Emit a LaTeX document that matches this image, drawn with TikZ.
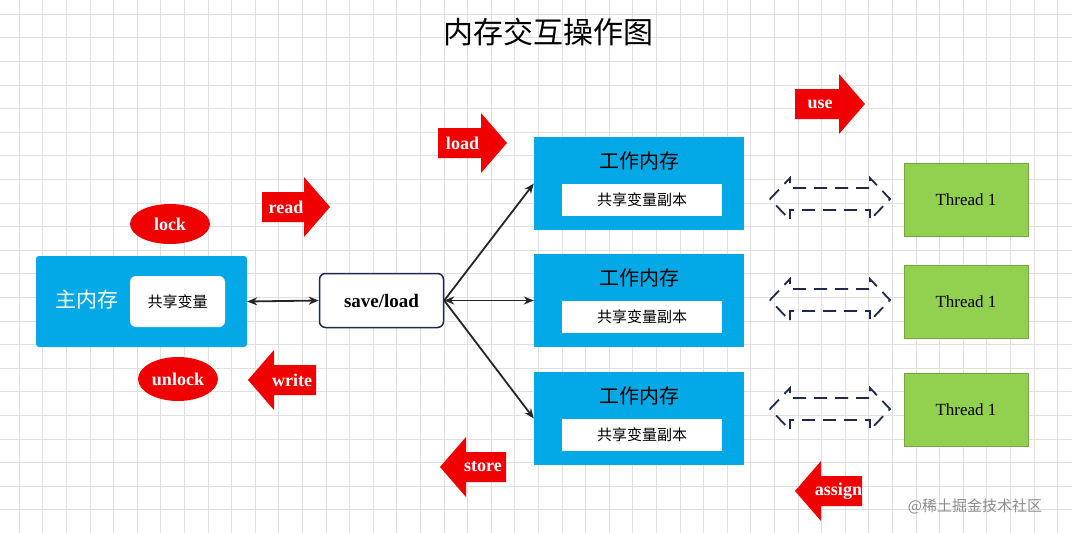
\documentclass[tikz,border=0pt]{standalone}
\usepackage{fontspec}
\newfontfamily\cjk{Noto Sans CJK SC}
\setmainfont{Liberation Serif}
\usetikzlibrary{arrows.meta,shapes.geometric}
\definecolor{cy}{HTML}{02A9E6}
\definecolor{gr}{HTML}{92D050}
\definecolor{rd}{HTML}{F00000}
\definecolor{nv}{HTML}{1F2A4A}
\newcommand\blkR[4]{\fill[rd] (#1,#3-15)--(#2-26,#3-15)--(#2-26,#3-30)--(#2,#3)--(#2-26,#3+30)--(#2-26,#3+15)--(#1,#3+15)--cycle;
 \node[lbl] at ({(#1+#2-20)/2},#3) {#4};}
\newcommand\blkL[4]{\fill[rd] (#2,#3-15)--(#1+26,#3-15)--(#1+26,#3-30)--(#1,#3)--(#1+26,#3+30)--(#1+26,#3+15)--(#2,#3+15)--cycle;
 \node[lbl] at ({(#1+#2+20)/2},#3) {#4};}
\newcommand\dda[1]{\draw[nv,line width=1.8pt,dash pattern=on 13pt off 8pt] (770,#1)--(790,#1-21)--(790,#1-11)--(870,#1-11)--(870,#1-21)--(890,#1)--(870,#1+21)--(870,#1+11)--(790,#1+11)--(790,#1+21)--cycle;}
\begin{document}
\begin{tikzpicture}[x=1pt,y=-1pt,
 lbl/.style={text=white,font=\fontsize{18}{20}\selectfont\bfseries},
 wm/.style={fill=cy,minimum width=210pt,minimum height=93pt,inner sep=0pt},
 inb/.style={fill=white,minimum width=160pt,minimum height=32pt,font=\cjk\fontsize{15}{17}\selectfont},
 th/.style={fill=gr,draw=gr!80!black,line width=0.3pt,minimum width=124pt,minimum height=73pt,font=\fontsize{17}{19}\selectfont},
 con/.style={-{Stealth[length=10pt,width=8pt]},line width=1.8pt,black!85}]
\useasboundingbox (0,0) rectangle (1072,533);
\fill[white] (0,0) rectangle (1072,533);
\foreach \i in {0,...,44} \draw[black!12,line width=0.6pt] (19+23.6*\i,0)--(19+23.6*\i,533);
\foreach \i in {0,...,22} \draw[black!12,line width=0.6pt] (0,14+23.6*\i)--(1072,14+23.6*\i);
\node[font=\cjk\fontsize{30}{34}\selectfont] (title) at (548,32) {内存交互操作图};
% main memory
\node[fill=cy,rounded corners=3pt,minimum width=211pt,minimum height=91pt] (main) at (141.5,301.5) {};
\node[text=white,font=\cjk\fontsize{21}{24}\selectfont] (mt) at (87,300) {主内存};
\node[fill=white,rounded corners=6pt,minimum width=95pt,minimum height=51pt,font=\cjk\fontsize{15}{17}\selectfont] (sv) at (177.5,301.5) {共享变量};
\node[ellipse,fill=rd,minimum width=80pt,minimum height=40pt,inner sep=0pt,lbl] (lock) at (170,224) {lock};
\node[ellipse,fill=rd,minimum width=80pt,minimum height=44pt,inner sep=0pt,lbl] (unlock) at (178,379) {unlock};
\node[draw=nv,line width=1.5pt,fill=white,rounded corners=6pt,minimum width=124pt,minimum height=54pt,font=\fontsize{19}{21}\selectfont\bfseries] (sl) at (381.5,300.5) {save/load};
% working memories
\foreach \n/\y in {1/183.5,2/300.5,3/418.5}{
 \node[wm] (w\n) at (639,\y) {};
 \node[font=\cjk\fontsize{20}{23}\selectfont] (wt\n) at (639,\y-23) {工作内存};
 \node[inb] (wc\n) at (642,\y+16) {共享变量副本};
}
\node[th] (t1) at (966,200) {Thread 1};
\node[th] (t2) at (966,301.5) {Thread 1};
\node[th] (t3) at (966,409.5) {Thread 1};
\dda{199}\dda{300}\dda{409}
\draw[con,{Stealth[length=10pt,width=8pt]}-{Stealth[length=10pt,width=8pt]}] (main.east) -- (sl.west);
\draw[con] (sl.east) -- (w1.west);
\draw[con,{Stealth[length=10pt,width=8pt]}-{Stealth[length=10pt,width=8pt]}] (sl.east) -- (w2.west);
\draw[con] (sl.east) -- (w3.west);
\blkR{262}{330}{207}{read}
\blkL{248}{316}{380}{write}
\blkR{438}{507}{143}{load}
\blkR{795}{865}{104}{use}
\blkL{440}{506}{467}{store}
\blkL{795}{862}{491}{assign}
\node[text=black!45,font=\cjk\fontsize{15}{17}\selectfont] (wmk) at (975,506) {@稀土掘金技术社区};
\end{tikzpicture}
\end{document}
